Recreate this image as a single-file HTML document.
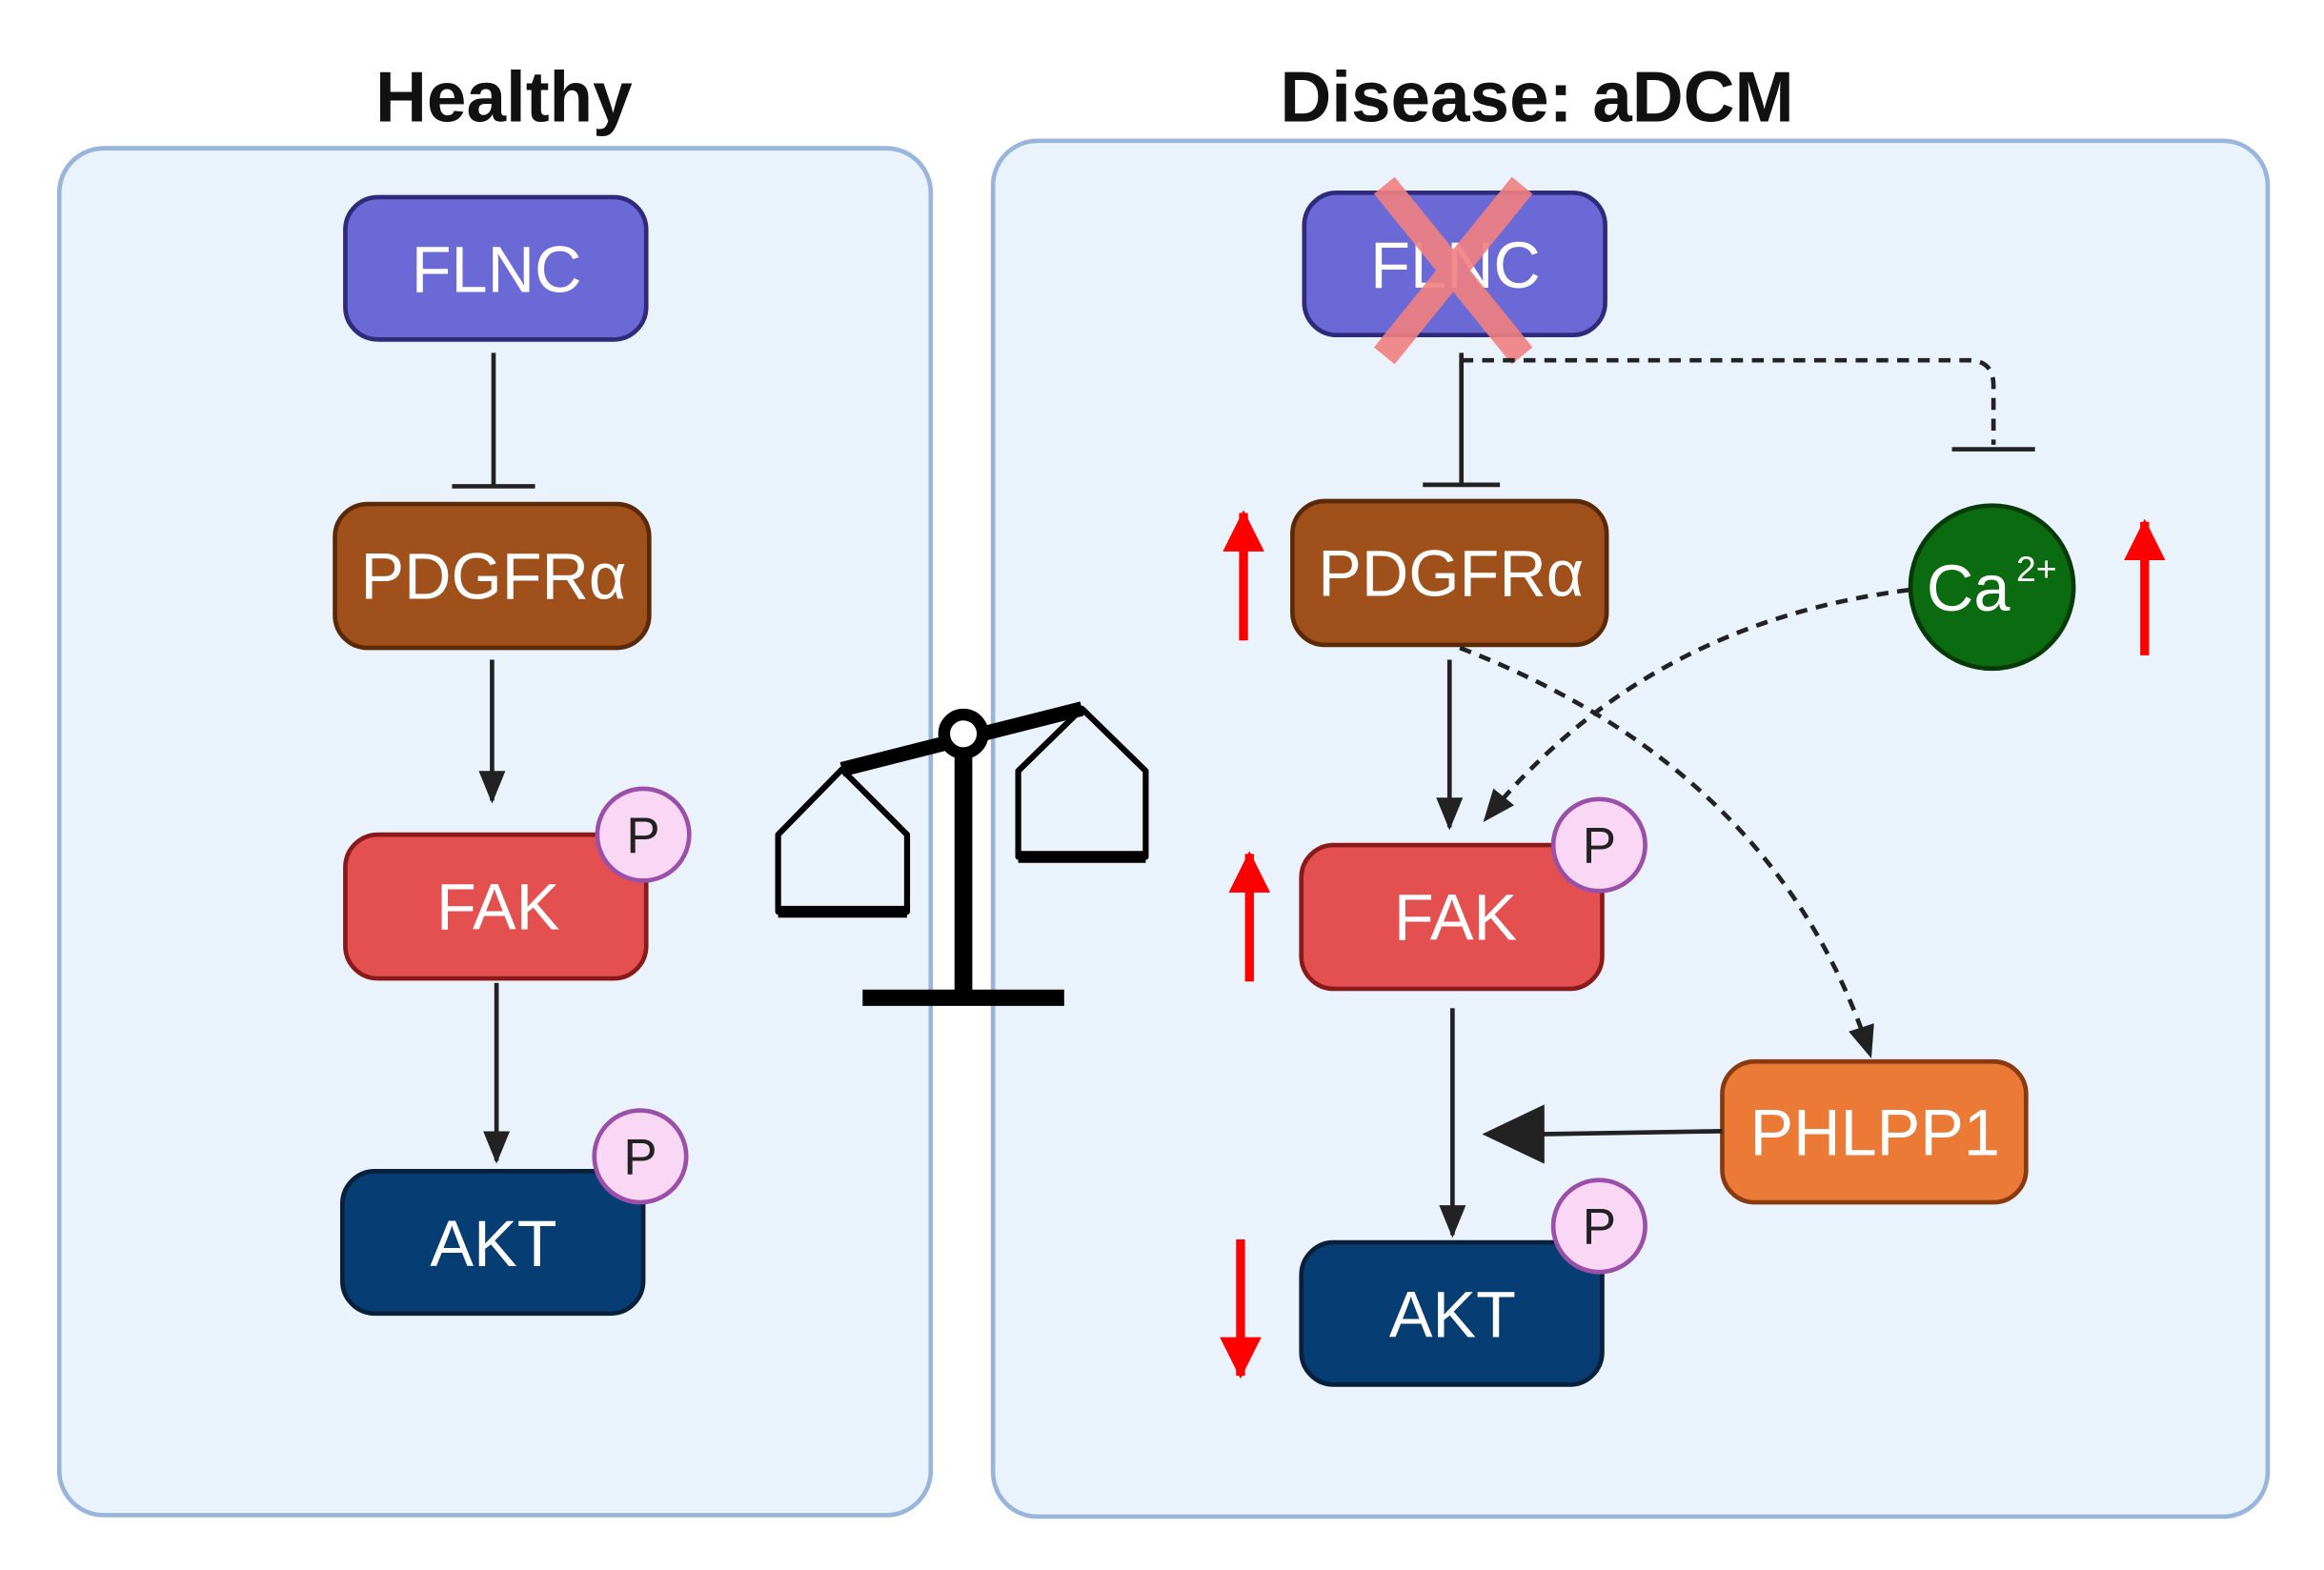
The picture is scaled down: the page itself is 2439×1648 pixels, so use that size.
<!DOCTYPE html>
<html><head><meta charset="utf-8"><style>
html,body{margin:0;padding:0;background:#fff;}
svg{display:block;}
text{font-family:"Liberation Sans",sans-serif;}
</style></head><body>
<svg width="2439" height="1648" viewBox="0 0 1568 1059" preserveAspectRatio="none" xmlns="http://www.w3.org/2000/svg">
<defs>
<marker id="ahb" markerWidth="22" markerHeight="22" refX="20" refY="11" orient="auto" markerUnits="userSpaceOnUse" viewBox="0 0 22 22"><path d="M0,2 L22,11 L0,20 z" fill="#222"/></marker>
<marker id="red" markerWidth="28" markerHeight="28" refX="26" refY="14" orient="auto" markerUnits="userSpaceOnUse" viewBox="0 0 28 28"><path d="M0,0 L28,14 L0,28 z" fill="#f00"/></marker>
</defs>
<text x="340" y="82" font-size="48" font-weight="bold" text-anchor="middle" fill="#111">Healthy</text>
<text x="1037" y="82" font-size="48" font-weight="bold" text-anchor="middle" fill="#111">Disease: aDCM</text>
<rect x="40" y="100" width="588" height="922" rx="30" fill="#eaf2fb" stroke="#9ab5dc" stroke-width="3"/>
<rect x="670" y="95" width="860" height="928" rx="30" fill="#eaf2fb" stroke="#9ab5dc" stroke-width="3"/>

<!-- left -->
<g stroke-width="3">
<rect x="233" y="133" width="203" height="96" rx="22" fill="#6b69d6" stroke="#2f2a7a"/>
<rect x="226" y="340" width="212" height="97" rx="22" fill="#a0501a" stroke="#5a2a08"/>
<rect x="233" y="563" width="203" height="97" rx="22" fill="#e45050" stroke="#8a1a1a"/>
<rect x="231" y="790" width="203" height="96" rx="22" fill="#063e73" stroke="#0a1f3a"/>
</g>
<g fill="#fff" font-size="44" text-anchor="middle">
<text x="335" y="197">FLNC</text>
<text x="333" y="404">PDGFRα</text>
<text x="336" y="627">FAK</text>
<text x="333" y="854">AKT</text>
</g>
<g stroke="#222" stroke-width="3" fill="none">
<line x1="333" y1="238" x2="333" y2="328"/><line x1="305" y1="328" x2="361" y2="328"/>
<line x1="332" y1="445" x2="332" y2="540" marker-end="url(#ahb)"/>
<line x1="335" y1="663" x2="335" y2="783" marker-end="url(#ahb)"/>
</g>

<!-- scale -->
<g stroke="#000" fill="none" stroke-linejoin="round">
<line x1="582" y1="673" x2="718" y2="673" stroke-width="11"/>
<line x1="650" y1="495" x2="650" y2="673" stroke-width="12"/>
<line x1="568" y1="519" x2="730" y2="478" stroke-width="10"/>
<path d="M568,519 L525,563 L525,615 L612,615 L612,563 Z" stroke-width="4"/>
<line x1="525" y1="615" x2="612" y2="615" stroke-width="8"/>
<path d="M730,478 L687,520 L687,578 L773,578 L773,520 Z" stroke-width="4"/>
<line x1="687" y1="578" x2="773" y2="578" stroke-width="8"/>
<circle cx="650" cy="495" r="13" fill="#fff" stroke-width="8"/>
</g>

<!-- right -->
<g stroke-width="3">
<rect x="880" y="130" width="203" height="96" rx="22" fill="#6b69d6" stroke="#2f2a7a"/>
<rect x="872" y="338" width="212" height="97" rx="22" fill="#a0501a" stroke="#5a2a08"/>
<rect x="878" y="570" width="203" height="97" rx="22" fill="#e45050" stroke="#8a1a1a"/>
<rect x="878" y="838" width="203" height="96" rx="22" fill="#063e73" stroke="#0a1f3a"/>
<rect x="1162" y="716" width="205" height="95" rx="22" fill="#ea7a35" stroke="#8a3a10"/>
<circle cx="1344" cy="396" r="55" fill="#0a6b10" stroke="#063a08"/>
</g>
<g fill="#fff" font-size="44" text-anchor="middle">
<text x="982" y="194">FLNC</text>
<text x="979" y="402">PDGFRα</text>
<text x="982" y="634">FAK</text>
<text x="980" y="902">AKT</text>
<text x="1265" y="779">PHLPP1</text>
<text x="1328" y="412">Ca</text>
<text x="1374" y="392" font-size="24">2+</text>
</g>
<g stroke="#f08080" stroke-width="18" opacity="0.9">
<line x1="934" y1="125" x2="1027" y2="240"/><line x1="1027" y1="125" x2="934" y2="240"/>
</g>
<g stroke="#222" stroke-width="3" fill="none">
<line x1="986" y1="238" x2="986" y2="326"/><line x1="960" y1="327" x2="1012" y2="327"/>
<path d="M986,243 L1328,243 Q1345,243 1345,260 L1345,300" stroke-dasharray="8,6"/>
<line x1="1317" y1="303" x2="1373" y2="303"/>
<line x1="978" y1="445" x2="978" y2="558" marker-end="url(#ahb)"/>
<line x1="980" y1="680" x2="980" y2="833" marker-end="url(#ahb)"/>
<path d="M1288,398 Q1110,420 1002,553" stroke-dasharray="8,6" marker-end="url(#ahb)"/>
<path d="M985,437 Q1200,520 1262,712" stroke-dasharray="8,6" marker-end="url(#ahb)"/>
<line x1="1162" y1="763" x2="1040" y2="765"/>
</g>
<path d="M1000,765 L1042,745 L1042,785 Z" fill="#222"/>
<g stroke="#f00" stroke-width="6">
<line x1="839" y1="432" x2="839" y2="346" marker-end="url(#red)"/>
<line x1="843" y1="662" x2="843" y2="576" marker-end="url(#red)"/>
<line x1="1447" y1="442" x2="1447" y2="352" marker-end="url(#red)"/>
<line x1="837" y1="836" x2="837" y2="928" marker-end="url(#red)"/>
</g>

<!-- P circles on top -->
<g stroke="#9a4fa8" stroke-width="3" fill="#f9d7f5">
<circle cx="434" cy="563" r="31"/><circle cx="432" cy="780" r="31"/>
<circle cx="1079" cy="570" r="31"/><circle cx="1079" cy="827" r="31"/>
</g>
<g font-size="34" text-anchor="middle" fill="#222">
<text x="434" y="575">P</text><text x="432" y="792">P</text>
<text x="1079" y="582">P</text><text x="1079" y="839">P</text>
</g>
</svg>
</body></html>
